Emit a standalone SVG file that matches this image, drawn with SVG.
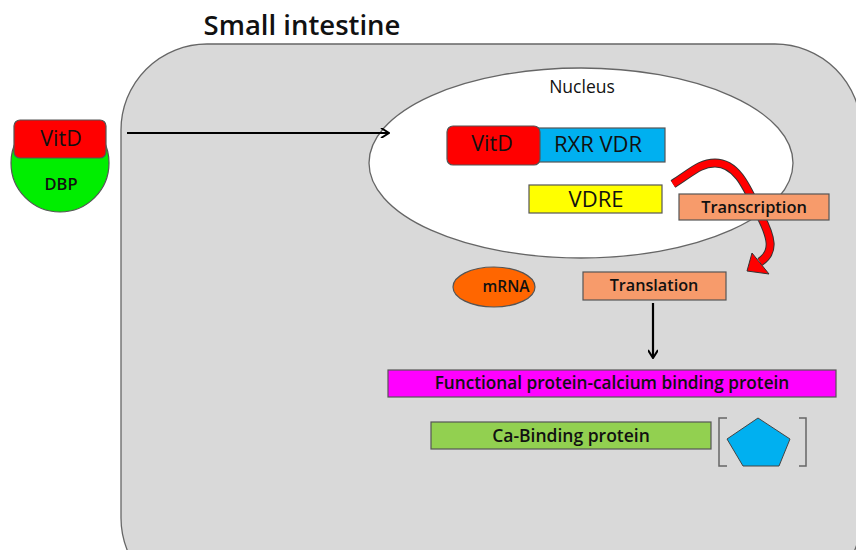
<svg xmlns="http://www.w3.org/2000/svg" width="856" height="550" viewBox="0 0 856 550">
<defs>
<style>
text{font-family:"Open Sans","Noto Sans","DejaVu Sans",sans-serif;fill:#111;text-anchor:middle}
.box{stroke:#555;stroke-width:1.2}
.b{font-weight:600}
</style>
<marker id="ah" markerWidth="10" markerHeight="10" refX="8" refY="5" orient="auto" markerUnits="userSpaceOnUse">
<path d="M1,0 L9,5 L1,10" fill="none" stroke="#000" stroke-width="2"/>
</marker>
<clipPath id="dbpclip"><rect x="0" y="140" width="130" height="90"/></clipPath>
</defs>
<rect x="0" y="0" width="856" height="550" fill="#fff"/>
<text x="302" y="35" font-size="27.5" class="b">Small intestine</text>
<g id="cell"><rect x="121" y="44" width="740" height="560" rx="86" fill="#d9d9d9" stroke="#666" stroke-width="1.3"/></g>
<g id="nucleus"><ellipse cx="581" cy="163" rx="212" ry="95" fill="#fff" stroke="#666" stroke-width="1.3"/>
<text x="582" y="93" font-size="17.5">Nucleus</text></g>
<g id="dbp"><circle cx="60" cy="163" r="49" fill="#00ee00" stroke="#555" stroke-width="1.2" clip-path="url(#dbpclip)"/>
<text x="61" y="190" font-size="16.5" class="b">DBP</text></g>
<g id="vitd-out"><rect x="14" y="120" width="92" height="38" rx="6" fill="#ff0000" class="box"/>
<text x="61" y="146" font-size="21.5">VitD</text></g>
<g id="connectors">
<line x1="127" y1="133" x2="388" y2="133" stroke="#000" stroke-width="2" marker-end="url(#ah)"/>
<line x1="653" y1="303" x2="653" y2="357" stroke="#000" stroke-width="2.2" marker-end="url(#ah)"/>
<path d="M673,184 C692,172 700,163 715,163 C738,163 748,190 760,215 C772,238 775,252 760,262" fill="none" stroke="#333" stroke-width="9"/>
<path d="M673,184 C692,172 700,163 715,163 C738,163 748,190 760,215 C772,238 775,252 760,262" fill="none" stroke="#ff0000" stroke-width="7"/>
<polygon points="747,271 752,253 769,274" fill="#ff0000" stroke="#333" stroke-width="1"/>
</g>
<g id="rxr"><rect x="538" y="128" width="127" height="34" fill="#00b0f0" class="box"/>
<text x="598" y="152" font-size="22">RXR VDR</text></g>
<g id="vitd-in"><rect x="447" y="126" width="93" height="39" rx="6" fill="#ff0000" class="box"/>
<text x="492" y="151" font-size="21.5">VitD</text></g>
<g id="vdre"><rect x="529" y="185" width="133" height="28" fill="#ffff00" class="box"/>
<text x="596" y="207" font-size="22">VDRE</text></g>
<g id="transcription"><rect x="679" y="194" width="150" height="26" fill="#f79b6b" class="box"/>
<text x="754" y="213" font-size="16.4" class="b">Transcription</text></g>
<g id="mrna"><ellipse cx="494" cy="287" rx="41" ry="20" fill="#ff6600" stroke="#555" stroke-width="1.2"/>
<text x="506" y="292" font-size="15.5" class="b">mRNA</text></g>
<g id="translation"><rect x="583" y="272" width="143" height="28" fill="#f79b6b" class="box"/>
<text x="654" y="291" font-size="16.2" class="b">Translation</text></g>
<g id="functional"><rect x="388" y="370" width="448" height="27" fill="#ff00ff" class="box"/>
<text x="612" y="389" font-size="17.2" class="b">Functional protein-calcium binding protein</text></g>
<g id="cabinding"><rect x="431" y="422" width="280" height="27" fill="#92d050" class="box"/>
<text x="571" y="442" font-size="17.5" class="b">Ca-Binding protein</text></g>
<g id="calcium">
<path d="M727,418 L719,418 L719,466 L727,466 M799,418 L806,418 L806,466 L799,466" fill="none" stroke="#666" stroke-width="1.5"/>
<polygon points="758,418 790,439 779,466 743,466 727,439" fill="#00b0f0" stroke="#444" stroke-width="1"/>
</g>
</svg>
